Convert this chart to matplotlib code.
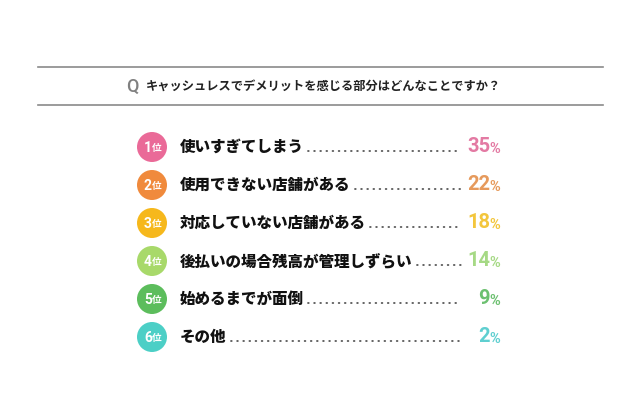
import matplotlib
matplotlib.use("Agg")
import matplotlib.pyplot as plt
from matplotlib.patches import Circle

plt.rcParams['font.family'] = ['Noto Sans CJK JP', 'DejaVu Sans']

question = "キャッシュレスでデメリットを感じる部分はどんなことですか？"
ranks = ["1", "2", "3", "4", "5", "6"]
labels = ["使いすぎてしまう", "使用できない店舗がある", "対応していない店舗がある",
          "後払いの場合残高が管理しずらい", "始めるまでが面倒", "その他"]
values = [35, 22, 18, 14, 9, 2]
circle_colors = ["#ea6a98", "#f08a3c", "#f6b81c", "#a8d96a", "#5cbd5c", "#4ccfc6"]
value_colors = ["#e37aa3", "#e69a5c", "#f3c63c", "#a6d985", "#6cc070", "#5fcfd0"]

fig = plt.figure(figsize=(6.4, 4.2), dpi=100)
ax = fig.add_axes([0, 0, 1, 1])
ax.set_xlim(0, 640)
ax.set_ylim(420, 0)
ax.axis('off')

# header lines
ax.plot([38, 603], [67, 67], color="#8a8a8a", lw=1.2)
ax.plot([38, 603], [105, 105], color="#8a8a8a", lw=1.2)
ax.text(126, 87, "Q", fontsize=13, color="#808080", ha='left', va='center',
        family=['Roboto', 'DejaVu Sans'], fontweight='medium')
ax.text(146, 86, question, fontsize=8.8, color="#222222", ha='left', va='center',
        fontweight='bold')

y0, dy = 147, 38
fig.canvas.draw()
renderer = fig.canvas.get_renderer()
for i, (r, lab, v) in enumerate(zip(ranks, labels, values)):
    y = y0 + i * dy
    ax.add_patch(Circle((152, y), 15, color=circle_colors[i], lw=0))
    ax.text(152, y + 0.5, r, fontsize=10, color="white", ha='right', va='center',
            fontweight='bold', family=['Roboto', 'DejaVu Sans'])
    ax.text(151.5, y + 1, "位", fontsize=7, color="white", ha='left', va='center',
            fontweight='bold')
    t = ax.text(180, y, lab, fontsize=11.2, color="#111111", ha='left', va='center',
                fontweight='heavy')
    bb = t.get_window_extent(renderer=renderer)
    x_end = bb.x1 + 4
    ax.plot([x_end, 461], [y + 4, y + 4], color="#555555", lw=1.3,
            dashes=(0.4, 3.0), dash_capstyle='round')
    ax.text(490, y, str(v), fontsize=14.5, color=value_colors[i], ha='right',
            va='center', fontweight='bold', family=['Roboto', 'DejaVu Sans'])
    ax.text(489.5, y + 2, "%", fontsize=10.5, color=value_colors[i], ha='left',
            va='center', fontweight='bold', family=['Roboto', 'DejaVu Sans'])

fig.savefig("out.png", dpi=100, facecolor="white")
